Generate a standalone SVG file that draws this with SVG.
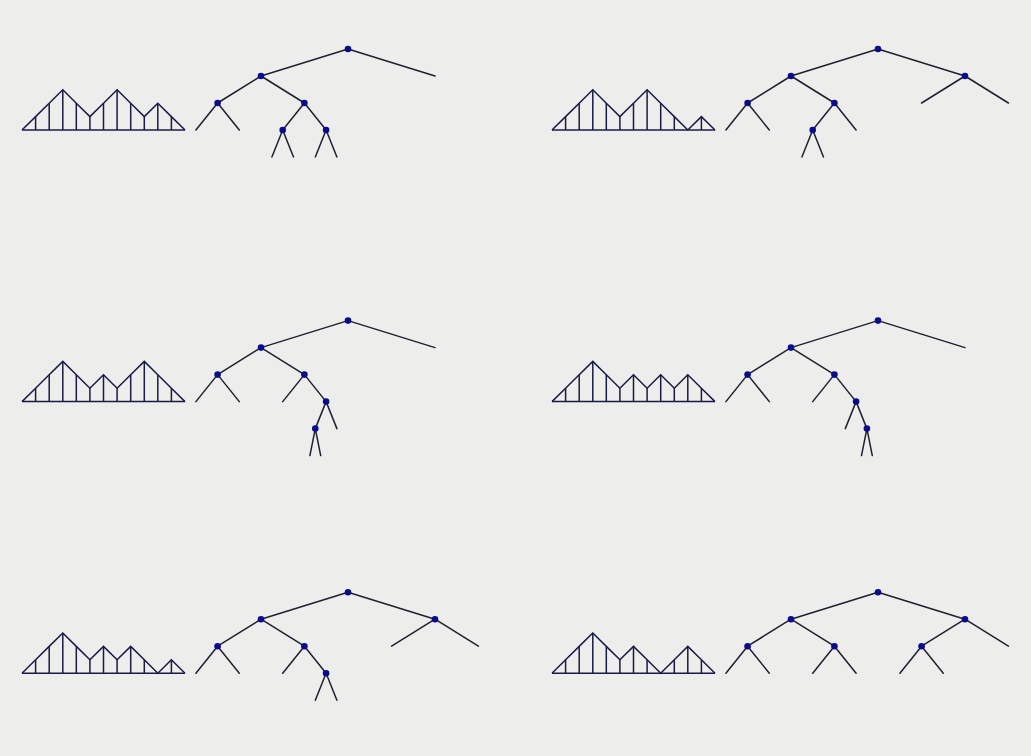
<svg xmlns="http://www.w3.org/2000/svg" width="1031" height="756" viewBox="0 0 1031 756">
<style>
.bg{fill:#ededeb}
.mt{fill:none;stroke:#1a1a48;stroke-width:1.5;stroke-linejoin:miter}
.ed{fill:none;stroke:#1f1f30;stroke-width:1.5;stroke-linecap:round}
.nd{fill:#0a0a8c}
</style>
<defs>
<path id="base" d="M22 130H185"/>
</defs>
<rect class="bg" x="0" y="0" width="1031" height="756"/>

<!-- Panel 1 -->
<g id="panel1">
  <g id="p1-mountain" class="mt">
    <use href="#base"/>
    <polyline points="22,130 35.6,116.6 49.2,103.2 62.8,89.8 76.3,103.2 89.9,116.6 103.5,103.2 117.1,89.8 130.7,103.2 144.3,116.6 157.8,103.2 171.4,116.6 185,130"/>
    <path d="M35.6 130V116.6M49.2 130V103.2M62.8 130V89.8M76.3 130V103.2M89.9 130V116.6M103.5 130V103.2M117.1 130V89.8M130.7 130V103.2M144.3 130V116.6M157.8 130V103.2M171.4 130V116.6"/>
  </g>
  <g id="p1-connectors" class="ed">
    <path d="M348 49L261 76M348 49L435 76M261 76L217.6 103M261 76L304.4 103M217.6 103L195.9 130M217.6 103L239.3 130M304.4 103L282.7 130M304.4 103L326.1 130M282.7 130L271.9 157M282.7 130L293.5 157M326.1 130L315.3 157M326.1 130L336.9 157"/>
  </g>
  <g id="p1-nodes" class="nd">
    <g id="p1-n1"><circle cx="348" cy="49" r="3.3"/></g>
    <g id="p1-n2"><circle cx="261" cy="76" r="3.3"/></g>
    <g id="p1-n3"><circle cx="217.6" cy="103" r="3.3"/></g>
    <g id="p1-n4"><circle cx="304.4" cy="103" r="3.3"/></g>
    <g id="p1-n5"><circle cx="282.7" cy="130" r="3.3"/></g>
    <g id="p1-n6"><circle cx="326.1" cy="130" r="3.3"/></g>
  </g>
</g>

<!-- Panel 2 -->
<g id="panel2" transform="translate(530,0)">
  <g id="p2-mountain" class="mt">
    <use href="#base"/>
    <polyline points="22,130 35.6,116.6 49.2,103.2 62.8,89.8 76.3,103.2 89.9,116.6 103.5,103.2 117.1,89.8 130.7,103.2 144.3,116.6 157.8,130 171.4,116.6 185,130"/>
    <path d="M35.6 130V116.6M49.2 130V103.2M62.8 130V89.8M76.3 130V103.2M89.9 130V116.6M103.5 130V103.2M117.1 130V89.8M130.7 130V103.2M144.3 130V116.6M171.4 130V116.6"/>
  </g>
  <g id="p2-connectors" class="ed">
    <path d="M348 49L261 76M348 49L435 76M435 76L391.6 103M435 76L478.4 103M261 76L217.6 103M261 76L304.4 103M217.6 103L195.9 130M217.6 103L239.3 130M304.4 103L282.7 130M304.4 103L326.1 130M282.7 130L271.9 157M282.7 130L293.5 157"/>
  </g>
  <g id="p2-nodes" class="nd">
    <g id="p2-n1"><circle cx="348" cy="49" r="3.3"/></g>
    <g id="p2-n2"><circle cx="261" cy="76" r="3.3"/></g>
    <g id="p2-n3"><circle cx="435" cy="76" r="3.3"/></g>
    <g id="p2-n4"><circle cx="217.6" cy="103" r="3.3"/></g>
    <g id="p2-n5"><circle cx="304.4" cy="103" r="3.3"/></g>
    <g id="p2-n6"><circle cx="282.7" cy="130" r="3.3"/></g>
  </g>
</g>

<!-- Panel 3 -->
<g id="panel3" transform="translate(0,271.6)">
  <g id="p3-mountain" class="mt">
    <use href="#base"/>
    <polyline points="22,130 35.6,116.6 49.2,103.2 62.8,89.8 76.3,103.2 89.9,116.6 103.5,103.2 117.1,116.6 130.7,103.2 144.3,89.8 157.8,103.2 171.4,116.6 185,130"/>
    <path d="M35.6 130V116.6M49.2 130V103.2M62.8 130V89.8M76.3 130V103.2M89.9 130V116.6M103.5 130V103.2M117.1 130V116.6M130.7 130V103.2M144.3 130V89.8M157.8 130V103.2M171.4 130V116.6"/>
  </g>
  <g id="p3-connectors" class="ed">
    <path d="M348 49L261 76M348 49L435 76M261 76L217.6 103M261 76L304.4 103M217.6 103L195.9 130M217.6 103L239.3 130M304.4 103L282.7 130M304.4 103L326.1 130M326.1 130L315.3 157M326.1 130L336.9 157M315.3 157L309.9 184M315.3 157L320.7 184"/>
  </g>
  <g id="p3-nodes" class="nd">
    <g id="p3-n1"><circle cx="348" cy="49" r="3.3"/></g>
    <g id="p3-n2"><circle cx="261" cy="76" r="3.3"/></g>
    <g id="p3-n3"><circle cx="217.6" cy="103" r="3.3"/></g>
    <g id="p3-n4"><circle cx="304.4" cy="103" r="3.3"/></g>
    <g id="p3-n5"><circle cx="326.1" cy="130" r="3.3"/></g>
    <g id="p3-n6"><circle cx="315.3" cy="157" r="3.3"/></g>
  </g>
</g>

<!-- Panel 4 -->
<g id="panel4" transform="translate(530,271.6)">
  <g id="p4-mountain" class="mt">
    <use href="#base"/>
    <polyline points="22,130 35.6,116.6 49.2,103.2 62.8,89.8 76.3,103.2 89.9,116.6 103.5,103.2 117.1,116.6 130.7,103.2 144.3,116.6 157.8,103.2 171.4,116.6 185,130"/>
    <path d="M35.6 130V116.6M49.2 130V103.2M62.8 130V89.8M76.3 130V103.2M89.9 130V116.6M103.5 130V103.2M117.1 130V116.6M130.7 130V103.2M144.3 130V116.6M157.8 130V103.2M171.4 130V116.6"/>
  </g>
  <g id="p4-connectors" class="ed">
    <path d="M348 49L261 76M348 49L435 76M261 76L217.6 103M261 76L304.4 103M217.6 103L195.9 130M217.6 103L239.3 130M304.4 103L282.7 130M304.4 103L326.1 130M326.1 130L315.3 157M326.1 130L336.9 157M336.9 157L331.5 184M336.9 157L342.3 184"/>
  </g>
  <g id="p4-nodes" class="nd">
    <g id="p4-n1"><circle cx="348" cy="49" r="3.3"/></g>
    <g id="p4-n2"><circle cx="261" cy="76" r="3.3"/></g>
    <g id="p4-n3"><circle cx="217.6" cy="103" r="3.3"/></g>
    <g id="p4-n4"><circle cx="304.4" cy="103" r="3.3"/></g>
    <g id="p4-n5"><circle cx="326.1" cy="130" r="3.3"/></g>
    <g id="p4-n6"><circle cx="336.9" cy="157" r="3.3"/></g>
  </g>
</g>

<!-- Panel 5 -->
<g id="panel5" transform="translate(0,543.2)">
  <g id="p5-mountain" class="mt">
    <use href="#base"/>
    <polyline points="22,130 35.6,116.6 49.2,103.2 62.8,89.8 76.3,103.2 89.9,116.6 103.5,103.2 117.1,116.6 130.7,103.2 144.3,116.6 157.8,130 171.4,116.6 185,130"/>
    <path d="M35.6 130V116.6M49.2 130V103.2M62.8 130V89.8M76.3 130V103.2M89.9 130V116.6M103.5 130V103.2M117.1 130V116.6M130.7 130V103.2M144.3 130V116.6M171.4 130V116.6"/>
  </g>
  <g id="p5-connectors" class="ed">
    <path d="M348 49L261 76M348 49L435 76M435 76L391.6 103M435 76L478.4 103M261 76L217.6 103M261 76L304.4 103M217.6 103L195.9 130M217.6 103L239.3 130M304.4 103L282.7 130M304.4 103L326.1 130M326.1 130L315.3 157M326.1 130L336.9 157"/>
  </g>
  <g id="p5-nodes" class="nd">
    <g id="p5-n1"><circle cx="348" cy="49" r="3.3"/></g>
    <g id="p5-n2"><circle cx="261" cy="76" r="3.3"/></g>
    <g id="p5-n3"><circle cx="435" cy="76" r="3.3"/></g>
    <g id="p5-n4"><circle cx="217.6" cy="103" r="3.3"/></g>
    <g id="p5-n5"><circle cx="304.4" cy="103" r="3.3"/></g>
    <g id="p5-n6"><circle cx="326.1" cy="130" r="3.3"/></g>
  </g>
</g>

<!-- Panel 6 -->
<g id="panel6" transform="translate(530,543.2)">
  <g id="p6-mountain" class="mt">
    <use href="#base"/>
    <polyline points="22,130 35.6,116.6 49.2,103.2 62.8,89.8 76.3,103.2 89.9,116.6 103.5,103.2 117.1,116.6 130.7,130 144.3,116.6 157.8,103.2 171.4,116.6 185,130"/>
    <path d="M35.6 130V116.6M49.2 130V103.2M62.8 130V89.8M76.3 130V103.2M89.9 130V116.6M103.5 130V103.2M117.1 130V116.6M144.3 130V116.6M157.8 130V103.2M171.4 130V116.6"/>
  </g>
  <g id="p6-connectors" class="ed">
    <path d="M348 49L261 76M348 49L435 76M435 76L391.6 103M435 76L478.4 103M261 76L217.6 103M261 76L304.4 103M217.6 103L195.9 130M217.6 103L239.3 130M304.4 103L282.7 130M304.4 103L326.1 130M391.6 103L369.9 130M391.6 103L413.3 130"/>
  </g>
  <g id="p6-nodes" class="nd">
    <g id="p6-n1"><circle cx="348" cy="49" r="3.3"/></g>
    <g id="p6-n2"><circle cx="261" cy="76" r="3.3"/></g>
    <g id="p6-n3"><circle cx="435" cy="76" r="3.3"/></g>
    <g id="p6-n4"><circle cx="217.6" cy="103" r="3.3"/></g>
    <g id="p6-n5"><circle cx="304.4" cy="103" r="3.3"/></g>
    <g id="p6-n6"><circle cx="391.6" cy="103" r="3.3"/></g>
  </g>
</g>
</svg>
